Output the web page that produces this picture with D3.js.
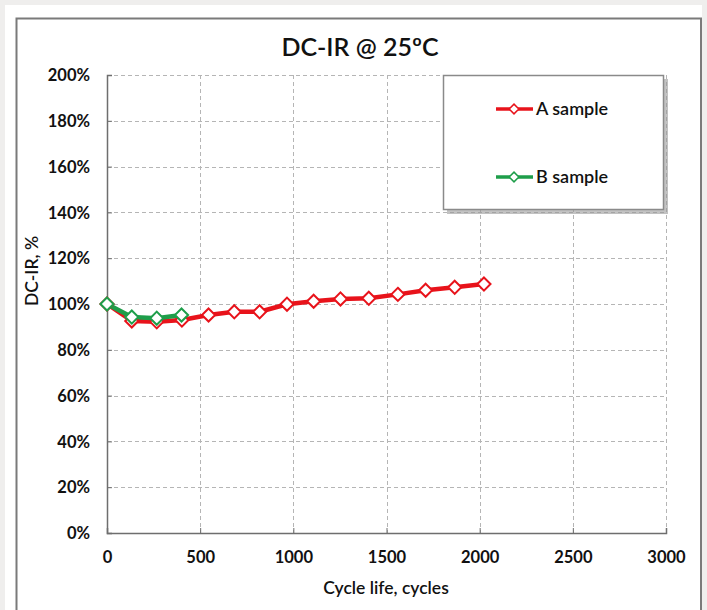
<!DOCTYPE html>
<html><head><meta charset="utf-8">
<script src="https://cdn.jsdelivr.net/npm/d3@7"></script>
<style>
html,body{margin:0;padding:0;background:#efeeed;}
svg{display:block;}
</style></head>
<body>
<svg id="chart" width="707" height="610"></svg>
<script>
const title = "DC-IR @ 25ºC";
const xLabel = "Cycle life, cycles";
const yLabel = "DC-IR, %";
const seriesNames = ["A sample", "B sample"];
const seriesColors = ["#e8131b", "#1e9e4a"];
const xTicks = [0, 500, 1000, 1500, 2000, 2500, 3000];
const yTicks = [0, 20, 40, 60, 80, 100, 120, 140, 160, 180, 200];
const aCycles = [0, 133, 267, 402, 545, 683, 819, 966, 1109, 1253, 1405, 1561, 1710, 1866, 2023];
const aValues = [100, 92.6, 92.2, 93.0, 95.2, 96.6, 96.6, 99.9, 101.2, 102.2, 102.5, 104.2, 106.0, 107.3, 108.7];
const bCycles = [0, 133, 267, 400];
const bValues = [100, 94.3, 93.8, 95.2];

const svg = d3.select("#chart");
const font = "Lato, 'Open Sans', sans-serif";

// page panel and frame
svg.append("rect").attr("x",5).attr("y",5).attr("width",697).attr("height",610).attr("fill","#fff");
svg.append("rect").attr("x",16.5).attr("y",18.5).attr("width",684.5).attr("height",600)
  .attr("fill","#fff").attr("stroke","#7a7a7a").attr("stroke-width",2);

const m = {l:107, r:666, t:75, b:533};
const x = d3.scaleLinear().domain([0,3000]).range([m.l, m.r]);
const y = d3.scaleLinear().domain([0,200]).range([m.b, m.t]);

// grid
const g = svg.append("g");
g.selectAll(".hg").data(yTicks.filter(d=>d>0)).join("line")
  .attr("x1",m.l).attr("x2",m.r).attr("y1",d=>Math.round(y(d))+0.5).attr("y2",d=>Math.round(y(d))+0.5)
  .attr("stroke","#b5b5b5").attr("stroke-width",1).attr("stroke-dasharray","4,3");
g.selectAll(".vg").data(xTicks.filter(d=>d>0)).join("line")
  .attr("x1",d=>Math.round(x(d))+0.5).attr("x2",d=>Math.round(x(d))+0.5).attr("y1",m.t).attr("y2",m.b)
  .attr("stroke","#b5b5b5").attr("stroke-width",1).attr("stroke-dasharray","4,3");

// axes
const xAxis = svg.append("g").attr("transform",`translate(0,${m.b})`)
  .call(d3.axisBottom(x).tickValues(xTicks).tickSize(-5).tickPadding(18).tickFormat(d3.format("d")));
const yAxis = svg.append("g").attr("transform",`translate(${m.l},0)`)
  .call(d3.axisLeft(y).tickValues(yTicks).tickSize(-5).tickPadding(17).tickFormat(d=>d+"%"));
[xAxis,yAxis].forEach(a=>{
  a.select(".domain").attr("stroke","#6e6e6e").attr("stroke-width",1.5);
  a.selectAll(".tick line").attr("stroke","#6e6e6e");
  a.selectAll("text").attr("font-family",font).attr("font-weight","bold").attr("font-size",16.5).attr("fill","#111");
});
yAxis.selectAll("text").attr("dy","0.35em");

// lines
const line = d3.line().x(d=>x(d[0])).y(d=>y(d[1]));
const series = [
  {pts: d3.zip(aCycles,aValues), color: seriesColors[0]},
  {pts: d3.zip(bCycles,bValues), color: seriesColors[1]}
];
const diamond = d3.symbol().type(d3.symbolDiamond2).size(110);
series.forEach(s=>{
  svg.append("path").datum(s.pts).attr("d",line).attr("fill","none")
    .attr("stroke",s.color).attr("stroke-width",4.5).attr("stroke-linejoin","round");
});
series.forEach(s=>{
  svg.append("g").selectAll("path").data(s.pts).join("path")
    .attr("d",diamond).attr("transform",d=>`translate(${x(d[0])},${y(d[1])})`)
    .attr("fill","#fff").attr("stroke",s.color).attr("stroke-width",2);
});

// title & axis titles
svg.append("text").attr("x",360).attr("y",56).attr("text-anchor","middle")
  .attr("font-family",font).attr("font-size",25).attr("font-weight",600).attr("fill","#111").text(title);
svg.append("text").attr("x",386).attr("y",594).attr("text-anchor","middle")
  .attr("font-family",font).attr("font-size",17.5).attr("font-weight",600).attr("fill","#111").text(xLabel);
svg.append("text").attr("transform","translate(38,271) rotate(-90)").attr("text-anchor","middle")
  .attr("font-family",font).attr("font-size",17.5).attr("font-weight",600).attr("fill","#111").text(yLabel);

// legend
const lg = svg.append("g");
lg.append("rect").attr("x",447).attr("y",79).attr("width",221).attr("height",135).attr("fill","#9a9a9a").attr("opacity",0.6);
lg.append("rect").attr("x",443.5).attr("y",75.5).attr("width",220).attr("height",134).attr("fill","#fff")
  .attr("stroke","#8a8a8a").attr("stroke-width",1.5);
const ly = [109, 177];
seriesNames.forEach((n,i)=>{
  lg.append("line").attr("x1",496).attr("x2",533).attr("y1",ly[i]).attr("y2",ly[i])
    .attr("stroke",seriesColors[i]).attr("stroke-width",3.5);
  lg.append("path").attr("d",d3.symbol().type(d3.symbolDiamond2).size(60)).attr("transform",`translate(514,${ly[i]})`)
    .attr("fill","#fff").attr("stroke",seriesColors[i]).attr("stroke-width",1.5);
  lg.append("text").attr("x",536).attr("y",ly[i]).attr("dy","0.35em").attr("font-family",font)
    .attr("font-size",18).attr("font-weight",600).attr("fill","#111").text(n);
});
</script>
</body></html>
